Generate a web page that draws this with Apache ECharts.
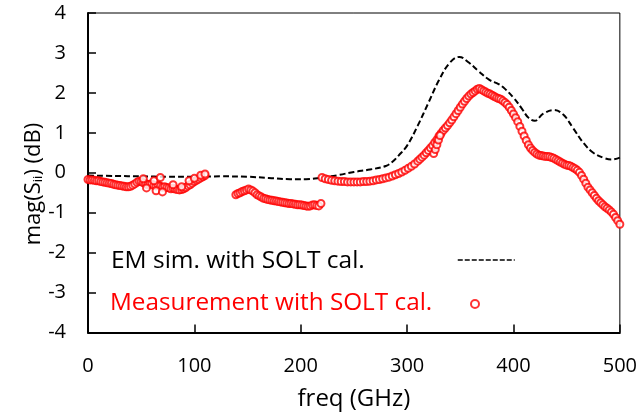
<!DOCTYPE html>
<html><head><meta charset="utf-8">
<script src="https://cdn.jsdelivr.net/npm/echarts@6/dist/echarts.min.js"></script>
<style>html,body{margin:0;padding:0;background:#fff}#c{width:640px;height:419px}</style>
</head><body><div id="c"></div>
<script>
// EM simulation with SOLT calibration (dashed line)
const simFreq = [0, 25, 50, 75, 100, 125, 150, 170, 190, 205, 220, 235, 250, 265, 280, 286, 292, 300, 310, 320, 330, 340, 349, 358, 367, 377, 386, 392, 400, 408, 414, 420, 428, 438, 447, 456, 466, 475, 485, 492, 500];
const simMag  = [-0.07, -0.08, -0.09, -0.10, -0.10, -0.09, -0.10, -0.13, -0.16, -0.16, -0.12, -0.06, 0.02, 0.08, 0.17, 0.27, 0.43, 0.68, 1.18, 1.75, 2.32, 2.75, 2.90, 2.76, 2.55, 2.33, 2.22, 2.10, 1.88, 1.60, 1.38, 1.30, 1.48, 1.57, 1.45, 1.12, 0.74, 0.50, 0.37, 0.33, 0.38];

// Measurement with SOLT calibration (open circles)
const measFreq = [
  0, 2, 4, 6, 8, 10, 12, 14, 16, 18, 20, 22, 24, 26, 28, 30, 32, 34, 36, 38, 40, 42, 44, 46, 48, 50, 52, 54, 56, 58, 60, 62, 64, 66, 68, 70, 72, 74, 76, 78, 80, 82, 84, 86, 88, 90, 92, 94, 96, 98, 100, 102, 104, 106, 108, 110,
  52, 55, 62, 64, 68, 70, 80, 88, 95, 100, 106, 110,
  139, 141, 143, 145, 147, 149, 151, 153, 155, 157, 159, 161, 163, 165, 167, 169, 171, 173, 175, 177, 179, 181, 183, 185, 187, 189, 191, 193, 195, 197, 199, 201, 203, 205, 207, 209, 211, 213, 215, 217, 219,
  220, 223, 226, 229, 232, 235, 238, 241, 244, 247, 250, 253, 256, 259, 262, 265, 268, 271, 274, 277, 280, 283, 286, 289, 292, 295, 298, 301, 304, 307, 310, 312, 314, 316, 318, 320, 322, 324, 326, 328, 330, 332, 334,
  325, 326.5, 328, 329.5, 331,
  336, 338, 340, 342, 344, 346, 348, 350, 352, 354, 356, 358, 360, 362, 364, 366, 368, 370, 372, 374, 376, 378, 380, 382, 384, 386, 388, 390, 392, 394, 396, 398, 400, 402, 404, 406, 408, 410, 412, 414, 416, 418, 420, 422, 424, 426, 428, 430, 432, 434, 436, 438, 440, 442, 444, 446, 448, 450, 452, 454, 456, 458, 460, 462, 464, 466, 468, 470, 472, 474, 476, 478, 480, 482, 484, 486, 488, 490, 492, 494, 496, 498, 500
];
const measMag = [
  -0.17, -0.18, -0.18, -0.19, -0.20, -0.20, -0.22, -0.23, -0.24, -0.25, -0.26, -0.27, -0.29, -0.30, -0.31, -0.32, -0.33, -0.34, -0.35, -0.35, -0.34, -0.31, -0.28, -0.24, -0.21, -0.22, -0.25, -0.27, -0.30, -0.29, -0.28, -0.32, -0.33, -0.31, -0.34, -0.36, -0.35, -0.37, -0.38, -0.40, -0.39, -0.41, -0.42, -0.43, -0.42, -0.40, -0.37, -0.33, -0.30, -0.26, -0.22, -0.19, -0.16, -0.13, -0.10, -0.07,
  -0.15, -0.38, -0.20, -0.45, -0.12, -0.48, -0.30, -0.35, -0.20, -0.14, -0.06, -0.03,
  -0.55, -0.52, -0.50, -0.47, -0.45, -0.43, -0.41, -0.43, -0.46, -0.50, -0.55, -0.58, -0.61, -0.64, -0.65, -0.67, -0.68, -0.69, -0.70, -0.71, -0.72, -0.73, -0.74, -0.75, -0.76, -0.77, -0.77, -0.78, -0.79, -0.80, -0.80, -0.81, -0.82, -0.83, -0.84, -0.83, -0.81, -0.80, -0.82, -0.83, -0.77,
  -0.12, -0.15, -0.17, -0.19, -0.20, -0.21, -0.22, -0.22, -0.23, -0.23, -0.23, -0.23, -0.23, -0.22, -0.22, -0.21, -0.20, -0.18, -0.17, -0.15, -0.13, -0.11, -0.08, -0.05, -0.02, 0.02, 0.06, 0.11, 0.16, 0.22, 0.29, 0.34, 0.39, 0.44, 0.50, 0.56, 0.62, 0.68, 0.76, 0.83, 0.92, 0.99, 1.06,
  0.48, 0.58, 0.70, 0.82, 0.93,
  1.12, 1.18, 1.25, 1.32, 1.40, 1.48, 1.56, 1.64, 1.72, 1.79, 1.86, 1.92, 1.97, 2.01, 2.05, 2.09, 2.11, 2.08, 2.05, 2.02, 1.99, 1.97, 1.94, 1.91, 1.88, 1.86, 1.84, 1.80, 1.76, 1.71, 1.64, 1.56, 1.47, 1.38, 1.28, 1.16, 1.04, 0.92, 0.81, 0.70, 0.62, 0.56, 0.51, 0.47, 0.44, 0.43, 0.42, 0.41, 0.41, 0.40, 0.38, 0.36, 0.33, 0.30, 0.27, 0.24, 0.21, 0.19, 0.18, 0.16, 0.13, 0.10, 0.06, 0.01, -0.07, -0.16, -0.26, -0.36, -0.43, -0.50, -0.57, -0.64, -0.70, -0.75, -0.80, -0.85, -0.89, -0.93, -0.98, -1.04, -1.12, -1.20, -1.29
];

const simName = 'EM sim. with SOLT cal.';
const measName = 'Measurement with SOLT cal.';
const yTitle = '{a|mag(S}{s|ii}{a|) (dB)}';
const FONT = 'Open Sans';

const chart = echarts.init(document.getElementById('c'), null, {renderer: 'canvas'});
chart.setOption({
  animation: false,
  backgroundColor: '#fff',
  grid: {left: 88, right: 18.5, top: 13, bottom: 86.5, show: true, borderColor: '#000', borderWidth: 1},
  legend: [{
    data: [simName], left: 457, top: 254, itemWidth: 57, itemHeight: 12, padding: 0,
    formatter: () => '', textStyle: {fontSize: 8},
    lineStyle: {type: [5, 2], width: 1.5, color: '#000'},
    itemStyle: {color: 'rgba(0,0,0,0)', borderWidth: 0}
  }, {
    data: [measName], left: 470, top: 299, itemWidth: 8, itemHeight: 8, padding: 0,
    formatter: () => '', textStyle: {fontSize: 8},
    itemStyle: {borderWidth: 1.5}
  }],
  graphic: [{
    type: 'text', x: 111, y: 261,
    style: {text: simName, font: '24.5px "Open Sans"', fill: '#000', verticalAlign: 'middle'}
  }, {
    type: 'text', x: 110, y: 303,
    style: {text: measName, font: '24.3px "Open Sans"', fill: '#ff0000', verticalAlign: 'middle'}
  }, {
    type: 'text', x: 34, y: 184, rotation: Math.PI / 2,
    style: {
      text: yTitle, align: 'center', verticalAlign: 'middle',
      rich: {
        a: {fontSize: 22, fontFamily: FONT, fill: '#000', verticalAlign: 'bottom'},
        s: {fontSize: 13, fontFamily: FONT, fill: '#000', verticalAlign: 'bottom', padding: [8, 0, 0, 0]}
      }
    }
  }],
  xAxis: {
    type: 'value', min: 0, max: 500, interval: 100,
    name: 'freq (GHz)', nameLocation: 'middle', nameGap: 55,
    nameTextStyle: {fontSize: 24, fontFamily: FONT, color: '#000'},
    axisLine: {onZero: false, lineStyle: {color: '#000', width: 2}},
    axisTick: {inside: true, length: 8, lineStyle: {color: '#000', width: 1.5}},
    axisLabel: {fontSize: 20, fontFamily: FONT, color: '#000', margin: 24},
    splitLine: {show: false}
  },
  yAxis: {
    type: 'value', min: -4, max: 4, interval: 1,
    axisLine: {onZero: false, lineStyle: {color: '#000', width: 2}},
    axisTick: {inside: true, length: 8, lineStyle: {color: '#000', width: 1.5}},
    axisLabel: {fontSize: 20, fontFamily: FONT, color: '#000', margin: 22},
    splitLine: {show: false}
  },
  series: [{
    name: simName, type: 'line', smooth: 0.4, symbol: 'none',
    data: simFreq.map((f, i) => [f, simMag[i]]),
    lineStyle: {color: '#000', width: 2, type: [6, 3]},
    itemStyle: {color: '#000'}, z: 2
  }, {
    name: measName, type: 'scatter', symbol: 'emptyCircle', symbolSize: 7,
    data: measFreq.map((f, i) => [f, measMag[i]]),
    itemStyle: {color: '#ff0000', borderColor: '#ff0000', borderWidth: 2},
    z: 3
  }]
});
</script></body></html>
